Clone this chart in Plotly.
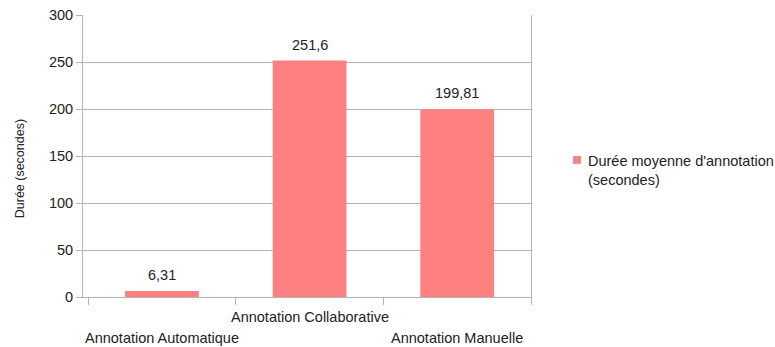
import plotly.graph_objects as go

categories = ["Annotation Automatique", "Annotation Collaborative", "Annotation Manuelle"]
durations = [6.31, 251.6, 199.81]
series_name = "Durée moyenne d'annotation<br>(secondes)"
y_ticks = [0, 50, 100, 150, 200, 250, 300]
y_title = "Durée (secondes)"

bar_color = "#ff8080"
grid_color = "#b3b3b3"
text_color = "#222222"
font_family = "Liberation Sans, Arial, sans-serif"
label_size = 14.5

fig = go.Figure()
fig.add_trace(go.Bar(
    x=categories,
    y=durations,
    name=series_name,
    marker=dict(color=bar_color, line=dict(width=0)),
    showlegend=False,
))

# value labels above each bar, French decimal comma
for cat, val in zip(categories, durations):
    fig.add_annotation(
        x=cat, y=val, xref="x", yref="y",
        text=f"{val}".replace(".", ","),
        showarrow=False, yanchor="bottom", yshift=6,
        font=dict(size=label_size, color=text_color, family=font_family),
    )

# staggered category labels (middle one sits higher)
for i, cat in enumerate(categories):
    fig.add_annotation(
        x=cat, y=0, xref="x", yref="paper",
        text=cat, showarrow=False, yanchor="middle",
        yshift=-20 if i % 2 == 1 else -41,
        font=dict(size=label_size, color=text_color, family=font_family),
    )

# rotated y-axis title
fig.add_annotation(
    x=-0.1406, y=0.453, xref="paper", yref="paper",
    text=y_title, textangle=-90, showarrow=False,
    xanchor="center", yanchor="middle",
    font=dict(size=12.5, color=text_color, family=font_family),
)

# legend: small colour key and two-line label
fig.add_shape(
    type="rect", xref="paper", yref="paper",
    x0=1.0937, x1=1.1116, y0=0.4723, y1=0.4997,
    fillcolor=bar_color, line=dict(width=0),
)
fig.add_annotation(
    x=1.1228, y=0.4473, xref="paper", yref="paper",
    text=series_name, showarrow=False, align="left",
    xanchor="left", yanchor="middle",
    font=dict(size=label_size, color=text_color, family=font_family),
)

fig.update_layout(
    width=775, height=347,
    margin=dict(l=83, r=244, t=15, b=50, autoexpand=False),
    paper_bgcolor="white", plot_bgcolor="white",
    bargap=0.5,
    showlegend=False,
    font=dict(family=font_family, size=12, color=text_color),
    xaxis=dict(
        showticklabels=False, automargin=False,
        ticks="outside", tickson="boundaries", ticklen=7,
        tickcolor=grid_color, tickwidth=1,
        showline=True, linecolor=grid_color, linewidth=1,
        showgrid=False, zeroline=False,
    ),
    yaxis=dict(
        range=[0, 300], tickvals=y_ticks, automargin=False,
        ticks="outside", ticklen=6, tickcolor=grid_color,
        showline=True, linecolor=grid_color, linewidth=1, mirror=True,
        showgrid=True, gridcolor=grid_color, gridwidth=1,
        zeroline=False,
        tickfont=dict(size=label_size, color=text_color, family=font_family),
    ),
)

fig.write_html("out.html")
